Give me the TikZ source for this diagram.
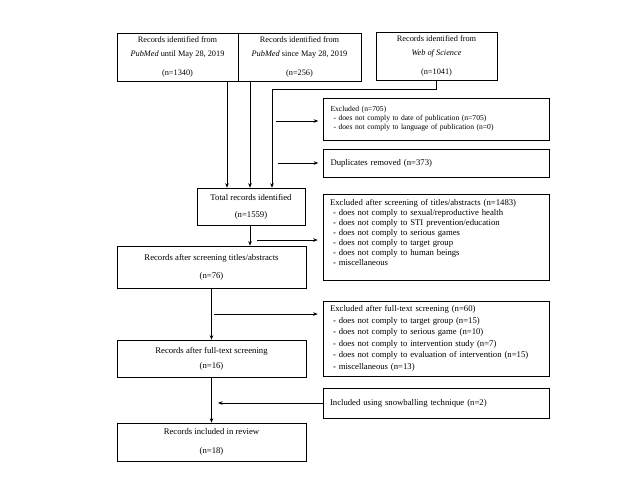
\documentclass[tikz,border=0pt]{standalone}
\usepackage{fontspec}
\setmainfont{Liberation Serif}
\usetikzlibrary{arrows.meta}

\tikzset{
  flowbox/.style={draw, line width=0.6pt, align=center, inner sep=2pt},
  srcbox/.style={flowbox, minimum width=121pt, minimum height=48pt, font=\fontsize{8.3}{9}\selectfont},
  mainbox/.style={flowbox, minimum width=189pt, minimum height=38pt},
  sidebox/.style={draw, line width=0.6pt, align=left, text width=212pt, inner xsep=7pt, inner ysep=2pt},
  flowarrow/.style={-{Stealth[length=4.5pt,width=3.5pt]}, line width=0.6pt},
}

\begin{document}
\begin{tikzpicture}[x=1pt,y=-1pt,font=\fontsize{8.7}{9}\selectfont]
    \useasboundingbox (0,0) rectangle (640,480);

    % sources
    \node[srcbox] (PubMed Until) at (177.5,57) {Records identified from\\[5pt]
        \textit{PubMed} until May 28, 2019\\[10pt]
        (n=1340)};
    \node[srcbox, minimum width=123pt] (PubMed Since) at (299.5,57) {Records identified from\\[5pt]
        \textit{PubMed} since May 28, 2019\\[10pt]
        (n=256)};
    \node[srcbox] (Web of Science) at (436.5,56) {Records identified from\\[5pt]
        \textit{Web of Science}\\[10pt]
        (n=1041)};

    % main column
    \node[flowbox, minimum width=108pt, minimum height=37pt] (Total) at (251,206.5) {Total records identified\\[8pt]
        (n=1559)};
    \node[mainbox, minimum height=42pt] (Screened) at (211.5,267) {Records after screening titles/abstracts\\[9pt]
        (n=76)};
    \node[mainbox, minimum height=37pt] (Full Text) at (211.5,358.5) {Records after full-text screening\\[6pt]
        (n=16)};
    \node[mainbox] (Included) at (211.5,442) {Records included in review\\[10pt]
        (n=18)};

    % side boxes
    \node[sidebox, minimum height=42pt, font=\fontsize{7.6}{9}\selectfont] (Excluded Date) at (436.5,119) {Excluded (n=705)\\
        \hspace*{3pt}- does not comply to date of publication (n=705)\\
        \hspace*{3pt}- does not comply to language of publication (n=0)};
    \node[sidebox, minimum height=28pt] (Duplicates) at (436.5,163) {Duplicates removed (n=373)};
    \node[sidebox, minimum height=86pt, font=\fontsize{8.7}{10}\selectfont] (Excluded Titles) at (436,237) {Excluded after screening of titles/abstracts (n=1483)\\
        \hspace*{3pt}- does not comply to sexual/reproductive health\\
        \hspace*{3pt}- does not comply to STI prevention/education\\
        \hspace*{3pt}- does not comply to serious games\\
        \hspace*{3pt}- does not comply to target group\\
        \hspace*{3pt}- does not comply to human beings\\
        \hspace*{3pt}- miscellaneous\\\mbox{}};
    \node[sidebox, minimum height=75pt, font=\fontsize{8.7}{11.5}\selectfont] (Excluded Full) at (436,338.5) {Excluded after full-text screening (n=60)\\
        \hspace*{3pt}- does not comply to target group (n=15)\\
        \hspace*{3pt}- does not comply to serious game (n=10)\\
        \hspace*{3pt}- does not comply to intervention study (n=7)\\
        \hspace*{3pt}- does not comply to evaluation of intervention (n=15)\\
        \hspace*{3pt}- miscellaneous (n=13)};
    \node[sidebox, minimum height=30pt] (Snowballing) at (436,403) {Included using snowballing technique (n=2)};

    % free ends
    \coordinate (Lane A) at (227,0);
    \coordinate (Lane B) at (250,0);
    \coordinate (WoS Bend) at (272,89);
    \coordinate (Date Tail) at (276,121);
    \coordinate (Dup Tail) at (278,163);
    \coordinate (Titles Tail) at (257,240);
    \coordinate (Full Tail) at (214,314);
    \coordinate (Snow Head) at (214,0);

    \draw[flowarrow] (PubMed Until.south -| Lane A) -- (Total.north -| Lane A);
    \draw[flowarrow] (PubMed Since.south -| Lane B) -- (Total.north -| Lane B);
    \draw[flowarrow] (Web of Science.south) |- (WoS Bend) -- (Total.north -| WoS Bend);
    \draw[flowarrow, shorten >=5pt] (Date Tail) -- (Excluded Date.west |- Date Tail);
    \draw[flowarrow, shorten >=5pt] (Dup Tail) -- (Duplicates.west |- Dup Tail);

    \draw[flowarrow] (Total.south -| Lane B) -- (Screened.north -| Lane B);
    \draw[flowarrow, shorten >=5pt] (Titles Tail) -- (Excluded Titles.west |- Titles Tail);
    \draw[flowarrow] (Screened) -- (Full Text);
    \draw[flowarrow, shorten >=5pt] (Full Tail) -- (Excluded Full.west |- Full Tail);
    \draw[flowarrow] (Full Text) -- (Included);
    \draw[flowarrow, shorten >=4pt] (Snowballing.west) -- (Snowballing.west -| Snow Head);
\end{tikzpicture}
\end{document}
